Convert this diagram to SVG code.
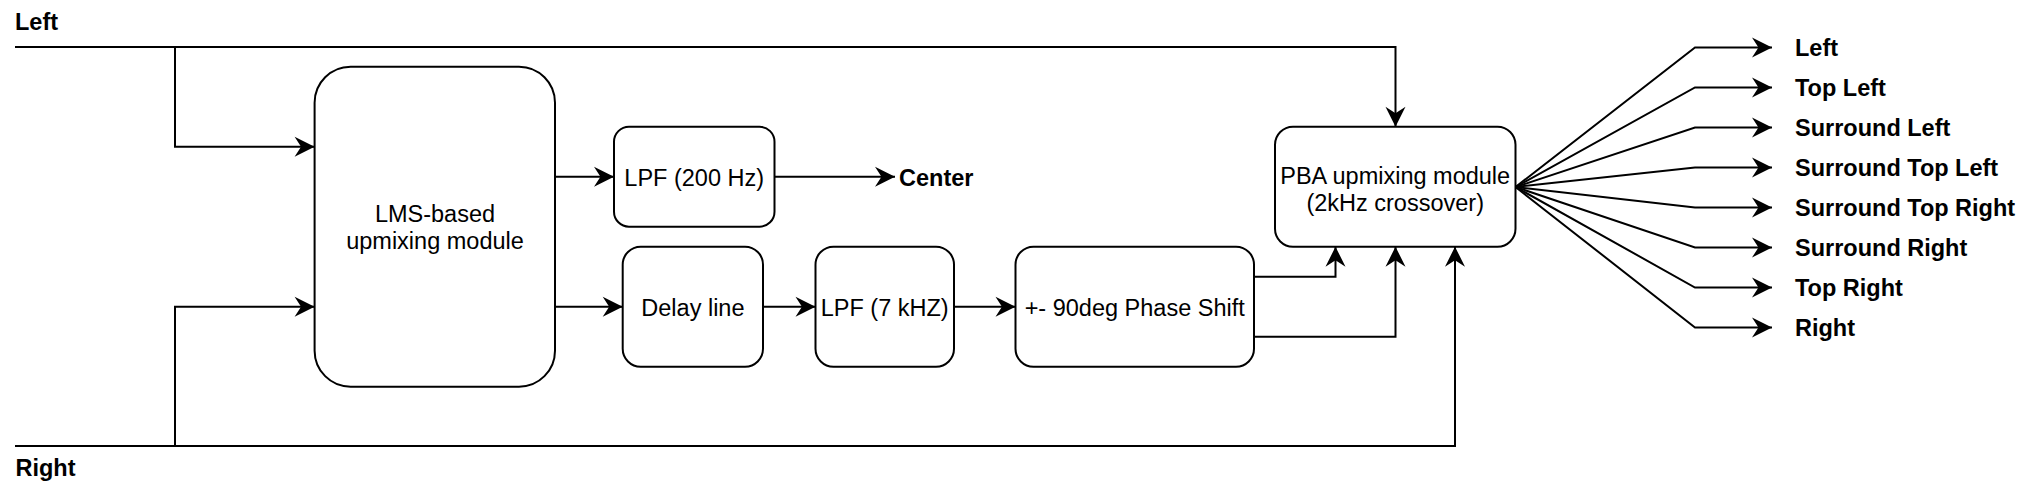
<svg xmlns="http://www.w3.org/2000/svg" width="2036" height="488" viewBox="0 0 2036 488">
<style>
.box{fill:#fff;stroke:#000;stroke-width:2}
.ln{fill:none;stroke:#000;stroke-width:2}
.arr{marker-end:url(#ah)}
text{font-family:"Liberation Sans",Arial,Helvetica,sans-serif;font-size:23.5px;fill:#000}
.c{text-anchor:middle}
.b{font-weight:bold}
</style>
<defs>
<marker id="ah" markerUnits="userSpaceOnUse" markerWidth="20" markerHeight="20" viewBox="0 0 17 17" refX="17" refY="8.5" orient="auto" overflow="visible">
<path d="M17,8.5 L0,0 L5.5,8.5 L0,17 Z" fill="#000" stroke="none"/>
</marker>
</defs>
<rect width="2036" height="488" fill="#fff"/>
<g id="connectors">
<path class="ln arr" d="M15,47 H1395.5 V126.7"/>
<path class="ln arr" d="M175,47 V146.7 H314.6"/>
<path class="ln arr" d="M15,446 H1455 V246.7"/>
<path class="ln arr" d="M175,446 V306.7 H314.6"/>
<path class="ln arr" d="M555,176.7 H614"/>
<path class="ln arr" d="M774.5,176.7 H895"/>
<path class="ln arr" d="M555,306.7 H622.7"/>
<path class="ln arr" d="M763,306.7 H815.5"/>
<path class="ln arr" d="M954,306.7 H1015.5"/>
<path class="ln arr" d="M1254,276.7 H1335.5 V246.7"/>
<path class="ln arr" d="M1254,336.7 H1395.5 V246.7"/>
<g id="fan">
<path class="ln arr" d="M1515.5,187 L1695,47.5 H1772"/>
<path class="ln arr" d="M1515.5,187 L1695,87.5 H1772"/>
<path class="ln arr" d="M1515.5,187 L1695,127.5 H1772"/>
<path class="ln arr" d="M1515.5,187 L1695,167.5 H1772"/>
<path class="ln arr" d="M1515.5,187 L1695,207.5 H1772"/>
<path class="ln arr" d="M1515.5,187 L1695,247.5 H1772"/>
<path class="ln arr" d="M1515.5,187 L1695,287.5 H1772"/>
<path class="ln arr" d="M1515.5,187 L1695,327.5 H1772"/>
</g>
</g>
<g id="label-left-in"><text class="b" x="15" y="30">Left</text></g>
<g id="label-right-in"><text class="b" x="15.5" y="476">Right</text></g>
<g id="lms">
<rect class="box" x="314.6" y="66.7" width="240.4" height="320" rx="36" ry="36"/>
<text class="c" x="435" y="221.5">LMS-based</text>
<text class="c" x="435" y="249">upmixing module</text>
</g>
<g id="lpf200">
<rect class="box" x="614" y="126.7" width="160.5" height="100" rx="15" ry="15"/>
<text class="c" x="694.2" y="185.5">LPF (200 Hz)</text>
</g>
<g id="label-center"><text class="b" x="899" y="185.5">Center</text></g>
<g id="delay">
<rect class="box" x="622.7" y="246.7" width="140.3" height="120" rx="18" ry="18"/>
<text class="c" x="692.9" y="315.5">Delay line</text>
</g>
<g id="lpf7">
<rect class="box" x="815.5" y="246.7" width="138.5" height="120" rx="18" ry="18"/>
<text class="c" x="884.7" y="315.5">LPF (7 kHZ)</text>
</g>
<g id="phase">
<rect class="box" x="1015.5" y="246.7" width="238.5" height="120" rx="18" ry="18"/>
<text class="c" x="1134.7" y="315.5">+- 90deg Phase Shift</text>
</g>
<g id="pba">
<rect class="box" x="1275" y="126.7" width="240.5" height="120" rx="18" ry="18"/>
<text class="c" x="1395.2" y="183.5">PBA upmixing module</text>
<text class="c" x="1395.2" y="210.5">(2kHz crossover)</text>
</g>
<g id="outputs">
<text class="b" x="1795" y="55.5">Left</text>
<text class="b" x="1795" y="95.5">Top Left</text>
<text class="b" x="1795" y="135.5">Surround Left</text>
<text class="b" x="1795" y="175.5">Surround Top Left</text>
<text class="b" x="1795" y="215.5">Surround Top Right</text>
<text class="b" x="1795" y="255.5">Surround Right</text>
<text class="b" x="1795" y="295.5">Top Right</text>
<text class="b" x="1795" y="335.5">Right</text>
</g>
</svg>
